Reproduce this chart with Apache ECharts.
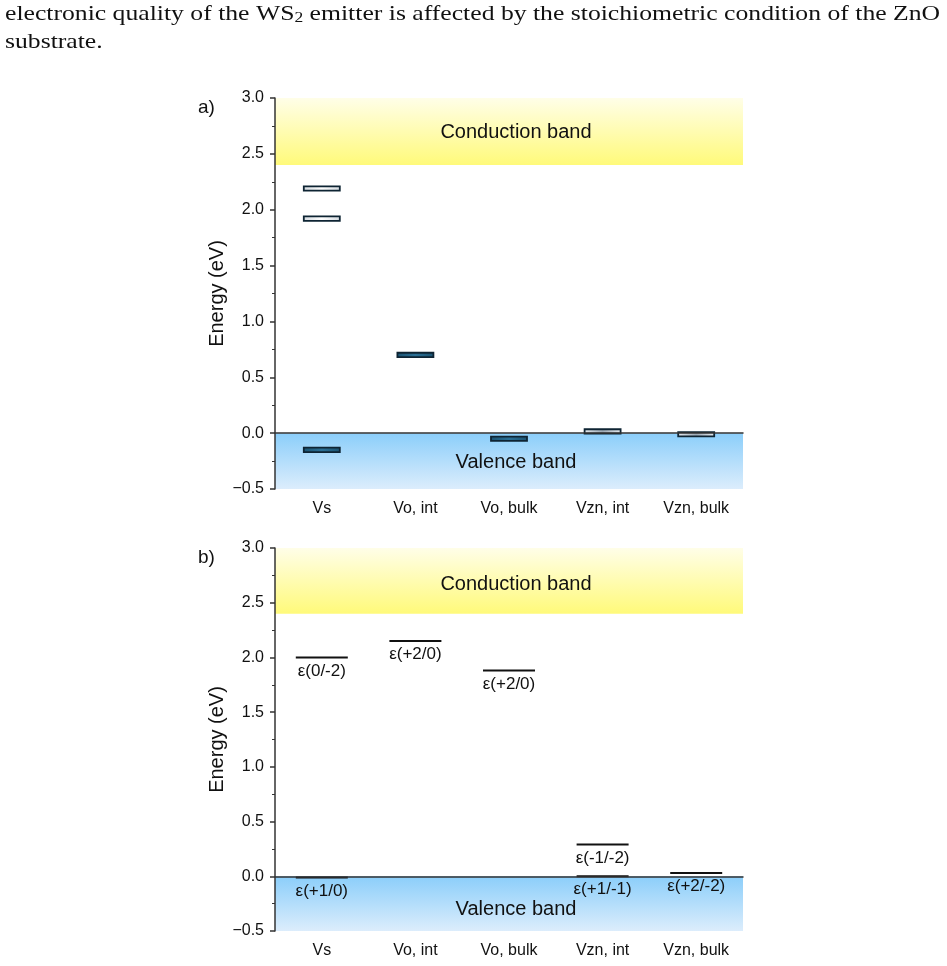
<!DOCTYPE html>
<html>
<head>
<meta charset="utf-8">
<script src="https://cdn.jsdelivr.net/npm/echarts@6/dist/echarts.min.js"></script>
<style>
  html, body { margin: 0; padding: 0; background: #fff; }
  #main { width: 947px; height: 966px; }
</style>
</head>
<body>
<div id="main"></div>
<script>
var categories = ['Vs', 'Vo, int', 'Vo, bulk', 'Vzn, int', 'Vzn, bulk'];

// panel a: defect levels (eV), grouped by how they are drawn
var aEmptyLevels = [['Vs', 2.19], ['Vs', 1.92]];
var aFilledLevels = [['Vs', -0.15], ['Vo, int', 0.70], ['Vo, bulk', -0.05]];
var aGreyLevels = [['Vzn, int', 0.015], ['Vzn, bulk', -0.01]];

// panel b: transition levels (eV) and their labels
var bLevels = [['Vs', 2.0], ['Vo, int', 2.15], ['Vo, bulk', 1.88], ['Vzn, int', 0.29],
  ['Vs', -0.01], ['Vzn, int', 0.0], ['Vzn, bulk', 0.03]];
var bNames = ['ε(0/-2)', 'ε(+2/0)', 'ε(+2/0)', 'ε(-1/-2)', 'ε(+1/0)', 'ε(+1/-1)', 'ε(+2/-2)'];

var conduction = [2.4, 3.0];
var valence = [-0.5, 0.0];

var chartDom = document.getElementById('main');
var myChart = echarts.init(chartDom);
var option;

var FONT = 'Liberation Sans';

function bandSeries(i, cbOffset, vbOffset) {
  return {
    type: 'line', xAxisIndex: i, yAxisIndex: i, data: [], z: 1, silent: true,
    markArea: {
      silent: true,
      label: { position: 'inside', color: '#111', fontSize: 20, fontFamily: FONT },
      data: [
        [{ name: 'Conduction band', yAxis: conduction[0],
           label: { offset: cbOffset },
           itemStyle: { color: new echarts.graphic.LinearGradient(0, 0, 0, 1, [
             { offset: 0, color: '#fffee8' }, { offset: 1, color: '#fffa7a' }]) } },
         { yAxis: conduction[1] }],
        [{ name: 'Valence band', yAxis: valence[0],
           label: { offset: vbOffset },
           itemStyle: { color: new echarts.graphic.LinearGradient(0, 0, 0, 1, [
             { offset: 0, color: '#8bcefa' }, { offset: 1, color: '#dcedfc' }]) } },
         { yAxis: valence[1] }]
      ]
    }
  };
}

// small rectangles centred on (category, energy)
function levelSeries(data, fill) {
  return {
    type: 'custom', xAxisIndex: 0, yAxisIndex: 0, z: 3,
    renderItem: function (params, api) {
      var c = api.coord([api.value(0), api.value(1)]);
      return {
        type: 'rect',
        shape: { x: c[0] - 18, y: c[1] - 2.2, width: 36, height: 4.4 },
        style: { fill: fill, stroke: '#0e2433', lineWidth: 1.8 }
      };
    },
    data: data
  };
}

option = {
  animation: false,
  backgroundColor: '#fff',
  graphic: [
    { type: 'text', x: 5, y: 3, scaleX: 1.167, style: {
      text: 'electronic quality of the WS{sub|2} emitter is affected by the stoichiometric condition of the ZnO',
      font: '22px "Liberation Serif"', fill: '#111',
      rich: { sub: { fontSize: 15, fontFamily: 'Liberation Serif', verticalAlign: 'bottom', padding: [8, 0, 0, 0] } } } },
    { type: 'text', x: 5, y: 31, scaleX: 1.167, style: { text: 'substrate.', font: '22px "Liberation Serif"', fill: '#111' } },
    { type: 'text', left: 198, top: 98, style: { text: 'a)', font: '19px "Liberation Sans"', fill: '#111' } },
    { type: 'text', left: 198, top: 548, style: { text: 'b)', font: '19px "Liberation Sans"', fill: '#111' } }
  ],
  grid: [
    { left: 275, top: 98, width: 468, height: 391 },
    { left: 275, top: 548, width: 468, height: 383 }
  ],
  xAxis: [0, 1].map(function (i) {
    return {
      type: 'category', gridIndex: i, data: categories, z: 5,
      axisLine: { lineStyle: { color: '#333', width: 1.5 } },
      axisTick: { alignWithLabel: true, length: 5, lineStyle: { color: '#333', width: 1.5 } },
      axisLabel: { color: '#111', fontSize: 16, margin: 12, fontFamily: FONT },
      splitLine: { show: false }
    };
  }),
  yAxis: [0, 1].map(function (i) {
    return {
      type: 'value', gridIndex: i, min: -0.5, max: 3, interval: 0.5, z: 5,
      name: 'Energy (eV)', nameLocation: 'middle', nameGap: 48,
      nameTextStyle: { fontSize: 20, color: '#111', fontFamily: FONT },
      axisLine: { show: true, lineStyle: { color: '#333', width: 1.5 } },
      axisTick: { show: true, length: 5, lineStyle: { color: '#333', width: 1.5 } },
      minorTick: { show: true, splitNumber: 2, length: 3, lineStyle: { color: '#333', width: 1 } },
      axisLabel: {
        color: '#111', fontSize: 16, margin: 11, fontFamily: FONT,
        formatter: function (v) { return (v < 0 ? '\u2212' : '') + Math.abs(v).toFixed(1); }
      },
      splitLine: { show: false }
    };
  }),
  series: [
    bandSeries(0, [7, 1], [7, 1]),
    bandSeries(1, [7, 4], [7, 6]),
    levelSeries(aEmptyLevels, new echarts.graphic.LinearGradient(0, 0, 1, 0, [
      { offset: 0, color: '#d3d9df' }, { offset: 0.5, color: '#ffffff' }, { offset: 1, color: '#d3d9df' }])),
    levelSeries(aFilledLevels, new echarts.graphic.LinearGradient(0, 0, 1, 0, [
      { offset: 0, color: '#1a5270' }, { offset: 0.5, color: '#2b7096' }, { offset: 1, color: '#1a5270' }])),
    levelSeries(aGreyLevels, new echarts.graphic.LinearGradient(0, 0, 1, 0, [
      { offset: 0, color: '#e8edf2' }, { offset: 0.5, color: '#9eaab6' }, { offset: 1, color: '#e8edf2' }])),
    {
      type: 'scatter', xAxisIndex: 1, yAxisIndex: 1, z: 3,
      symbol: 'rect', symbolSize: [52, 2],
      itemStyle: { color: '#111', opacity: 1 },
      label: {
        show: true, position: 'bottom', distance: 4, color: '#111', fontSize: 17, fontFamily: FONT,
        formatter: function (p) { return bNames[p.dataIndex]; }
      },
      data: bLevels
    }
  ]
};

option && myChart.setOption(option);
</script>
</body>
</html>
